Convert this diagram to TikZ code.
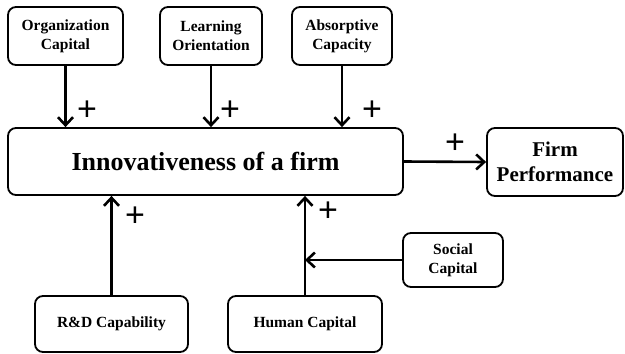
\documentclass[tikz,border=0pt]{standalone}
\usepackage{fontspec}
\setmainfont{Liberation Serif}
\newfontfamily\plusfont{Liberation Sans}
\usetikzlibrary{arrows.meta}
\tikzset{
  box/.style={draw, line width=1.8pt, rounded corners=8pt, align=center, inner sep=0pt,
    font=\fontsize{15.5}{19}\selectfont\bfseries},
  conn/.style={line width=2.6pt, -{Straight Barb[length=8pt,width=15pt]}},
  plus/.style={inner sep=0pt, font=\plusfont\fontsize{34}{34}\selectfont}
}
\begin{document}
\begin{tikzpicture}[x=1pt,y=-1pt]
\useasboundingbox (0,0) rectangle (625,354);
\node[box, minimum width=115pt, minimum height=58pt] (org) at (65.5,36) {Organization\\Capital};
\node[box, minimum width=102pt, minimum height=58pt] (learn) at (211,36) {Learning\\Orientation};
\node[box, minimum width=100pt, minimum height=58pt] (absorb) at (342,36) {Absorptive\\Capacity};
\node[box, minimum width=395pt, minimum height=67pt, font=\fontsize{26}{30}\selectfont\bfseries] (innov) at (205.5,161.5) {Innovativeness of a firm};
\node[box, minimum width=136pt, minimum height=68pt, font=\fontsize{21}{25}\selectfont\bfseries] (perf) at (555,162) {Firm\\Performance};
\node[box, minimum width=100pt, minimum height=54pt] (social) at (453,260) {Social\\Capital};
\node[box, minimum width=153pt, minimum height=56pt] (rd) at (111.5,324) {R\&D Capability};
\node[box, minimum width=154pt, minimum height=56pt] (human) at (305,324) {Human Capital};

\draw[conn] (org.south) -- (org.south |- innov.north);
\draw[conn] (learn.south) -- (learn.south |- innov.north);
\draw[conn] (absorb.south) -- (absorb.south |- innov.north);
\draw[conn] (innov.east) -- (perf.west);
\draw[conn] (rd.north) -- (rd.north |- innov.south);
\draw[conn] (human.north) -- (human.north |- innov.south);
\draw[conn] (social.west) -- (social.west -| human.north);

\node[plus] (p1) at (87,111) {+};
\node[plus] (p2) at (230,111) {+};
\node[plus] (p3) at (372,111) {+};
\node[plus] (p4) at (455,144) {+};
\node[plus] (p5) at (135,217) {+};
\node[plus] (p6) at (328,212) {+};
\end{tikzpicture}
\end{document}
